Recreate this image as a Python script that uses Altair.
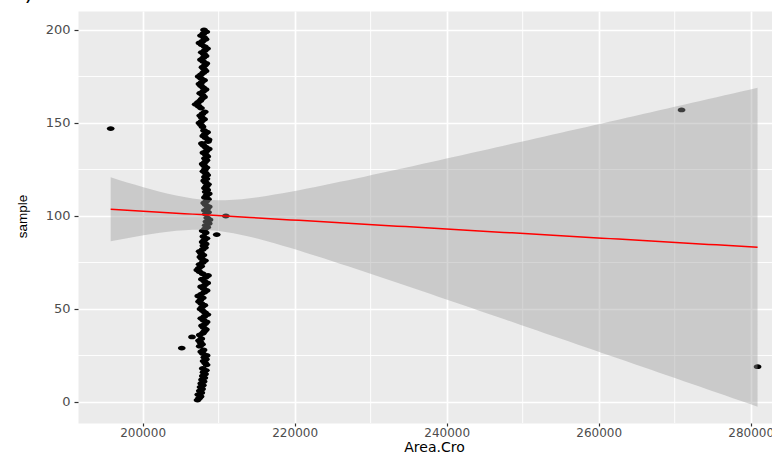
import altair as alt
import numpy as np
import pandas as pd

# ---- data ----
sample = list(range(1, 201))
area = [
    207220, 207420, 207620, 207320, 207720, 207520, 207820, 207620, 207920, 207720,
    208020, 207820, 208120, 207920, 208220, 208020, 208320, 207920, 280900, 208420,
    208220, 208020, 208320, 208120, 208420, 207920, 207720, 208020, 205150, 207520,
    207820, 207620, 207420, 207720, 206500, 207520, 207920, 208120, 208320, 208020,
    207820, 208220, 208420, 208020, 207720, 208120, 208520, 208220, 207920, 207620,
    207820, 208120, 207720, 207420, 207620, 207920, 207320, 207720, 208120, 208420,
    208000, 207700, 208200, 208500, 208100, 207800, 208300, 208600, 207900, 207500,
    207200, 207400, 207700, 207500, 207900, 208200, 207800, 207600, 208000, 207700,
    207500, 207900, 208200, 208000, 208300, 207900, 208100, 208400, 208000, 209750,
    208300, 207900, 208200, 208500, 208300, 208700, 208400, 208800, 208500, 210950,
    208300, 208600, 208200, 208500, 208700, 208300, 208100, 208400, 208600, 208200,
    208400, 208700, 208300, 208500, 208200, 208400, 208600, 208300, 208100, 208400,
    208200, 208500, 208300, 208000, 208200, 208400, 208100, 207900, 208200, 208400,
    208200, 208500, 208300, 208000, 208400, 208700, 208300, 208000, 207800, 208600,
    208680, 208280, 207980, 208180, 208480, 208080, 195800, 207880, 207680, 207480,
    207780, 208080, 207780, 207580, 207880, 208180, 270900, 207680, 207380, 206980,
    207280, 207580, 207780, 208080, 207880, 207580, 207980, 208280, 207980, 207680,
    207480, 207780, 208080, 207680, 207380, 207680, 207980, 208280, 208080, 207880,
    208180, 208380, 207980, 207680, 207980, 208280, 208080, 207780, 208180, 208480,
    208180, 207780, 207480, 207880, 208280, 208080, 207680, 207980, 208380, 208080,
]
x_ticks = [200000, 220000, 240000, 260000, 280000]
x_minor = [210000, 230000, 250000, 270000]
y_ticks = [0, 50, 100, 150, 200]
y_minor = [25, 75, 125, 175]

# ---- linear fit with 95% confidence band (like geom_smooth(method="lm")) ----
x = np.array(area, dtype=float)
y = np.array(sample, dtype=float)
n = len(x)
slope, intercept = np.polyfit(x, y, 1)
resid = y - (intercept + slope * x)
s = np.sqrt(np.sum(resid ** 2) / (n - 2))
xm = x.mean()
sxx = np.sum((x - xm) ** 2)
tq = 1.972
grid_x = np.linspace(x.min(), x.max(), 80)
fit = intercept + slope * grid_x
se = s * np.sqrt(1.0 / n + (grid_x - xm) ** 2 / sxx)
fit_df = pd.DataFrame({"gx": grid_x, "fit": fit, "lo": fit - tq * se, "hi": fit + tq * se})

pts = pd.DataFrame({"Area": area, "sample": sample})

xscale = alt.Scale(domain=[191500, 282800], nice=False, zero=False)
yscale = alt.Scale(domain=[-11.3, 210.2], nice=False, zero=False)

xaxis = alt.Axis(values=x_ticks, format="d", grid=True, gridColor="white", gridWidth=1.7,
                 domain=False, ticks=True, tickColor="#333333", tickSize=3, tickWidth=1.2,
                 labelFont="DejaVu Sans", labelFontSize=12, labelColor="#4D4D4D",
                 labelPadding=1, labelFlush=False, labelOverlap=False,
                 titleFont="DejaVu Sans", titleFontSize=14, titleFontWeight="normal",
                 titleColor="black", titleX=356, titleY=31.5, titleBaseline="bottom",
                 titleAnchor="start", titleAlign="center")
yaxis = alt.Axis(values=y_ticks, grid=True, gridColor="white", gridWidth=1.7,
                 domain=False, ticks=True, tickColor="#333333", tickSize=4, tickWidth=1.2,
                 labelFont="DejaVu Sans", labelFontSize=13, labelColor="#4D4D4D",
                 labelPadding=4, labelFlush=False, labelOverlap=False,
                 titleFont="Liberation Sans", titleFontSize=13.5, titleFontWeight="normal",
                 titleColor="black", titleX=-56, titleY=205, titleAngle=270,
                 titleBaseline="middle", titleAlign="center", titleAnchor="start")

XT = "Area.Cro"
YT = "sample"

ellipse = "M-1,0 A1,0.62 0 1,0 1,0 A1,0.62 0 1,0 -1,0 Z"

points = alt.Chart(pts).mark_point(
    shape=ellipse, filled=True, color="black", opacity=1, size=60
).encode(
    x=alt.X("Area:Q", scale=xscale, title=XT, axis=xaxis),
    y=alt.Y("sample:Q", scale=yscale, title=YT, axis=yaxis),
)

xminor = alt.Chart(pd.DataFrame({"v": x_minor})).mark_rule(color="white", strokeWidth=0.9).encode(
    x=alt.X("v:Q", scale=xscale, title=XT, axis=xaxis))
yminor = alt.Chart(pd.DataFrame({"v": y_minor})).mark_rule(color="white", strokeWidth=0.9).encode(
    y=alt.Y("v:Q", scale=yscale, title=YT, axis=yaxis))

band = alt.Chart(fit_df).mark_area(color="#999999", opacity=0.4).encode(
    x=alt.X("gx:Q", scale=xscale, title=XT, axis=xaxis),
    y=alt.Y("lo:Q", scale=yscale, title=YT, axis=yaxis),
    y2="hi:Q",
)

line = alt.Chart(fit_df).mark_line(color="red", strokeWidth=1.5).encode(
    x=alt.X("gx:Q", scale=xscale, title=XT, axis=xaxis),
    y=alt.Y("fit:Q", scale=yscale, title=YT, axis=yaxis),
)

label = alt.Chart(pd.DataFrame({"t": ["c)"]})).mark_text(
    font="DejaVu Sans", fontSize=22, align="right", baseline="alphabetic", color="black"
).encode(x=alt.value(-45), y=alt.value(-11), text="t:N")

chart = alt.layer(xminor, yminor, points, band, line, label).properties(
    width=694, height=412,
    autosize=alt.AutoSizeParams(type="none"),
    padding={"left": 78, "top": 11, "right": 0, "bottom": 32},
    background="white",
).configure_view(fill="#EBEBEB", stroke="transparent")

chart.save("out.html", embed_options={"renderer": "svg", "actions": False})
